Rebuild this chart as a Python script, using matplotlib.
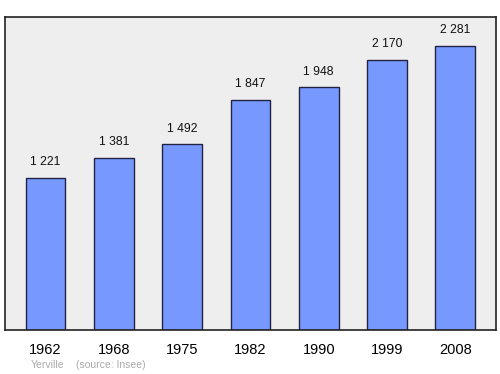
import matplotlib.pyplot as plt
import numpy as np

years = ["1962", "1968", "1975", "1982", "1990", "1999", "2008"]
population = [1221, 1381, 1492, 1847, 1948, 2170, 2281]
value_labels = ["1 221", "1 381", "1 492", "1 847", "1 948", "2 170", "2 281"]

plt.rcParams['font.family'] = ['Liberation Sans', 'DejaVu Sans']

fig = plt.figure(figsize=(5, 3.74), dpi=100)
ax = fig.add_axes([0.01, 0.1176, 0.982, 0.837])
ax.set_facecolor("#eeeeee")

x = np.arange(len(years))
ax.bar(x, population, width=0.58, color="#7799ff", edgecolor="#222244", linewidth=1)

for xi, v, lab in zip(x, population, value_labels):
    ax.annotate(lab, (xi, v), xytext=(0, 7), textcoords="offset points",
                ha="center", va="bottom", fontsize=8.7, color="#111111")

ax.set_xlim(-0.593, 6.596)
ax.set_ylim(0, 2514)
ax.set_xticks(x)
ax.set_xticklabels(years, fontsize=10.5)
ax.tick_params(axis="x", length=0, pad=9)
ax.set_yticks([])
for s in ax.spines.values():
    s.set_color("#222222")
    s.set_linewidth(1.2)

fig.text(31 / 500, 1 - 365 / 374, "Yerville", fontsize=7.5, color="#aaaaaa", va="center")
fig.text(76 / 500, 1 - 365 / 374, "(source: Insee)", fontsize=7.5, color="#aaaaaa", va="center")

fig.savefig("out.png", dpi=100)
